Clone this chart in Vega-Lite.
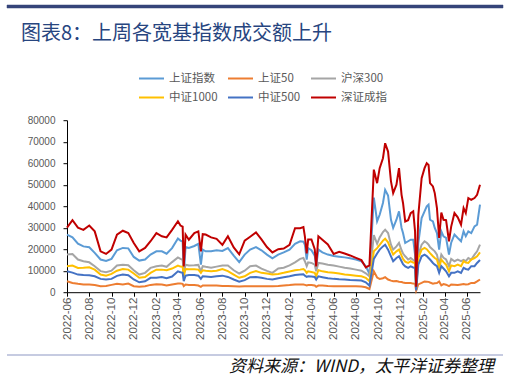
{
"$schema":"https://vega.github.io/schema/vega-lite/v6.json",
"background":"#ffffff",
"padding":{"left":6,"top":4,"right":5,"bottom":2},
"spacing":14.2,
"config":{"view":{"stroke":null},"font":"Liberation Sans"},
"vconcat":[
{"width":496,"height":3,"view":{"fill":"#36447A","stroke":null},"data":{"values":[{"a":0,"b":1}]},"mark":{"type":"rect","color":"#36447A","stroke":"#36447A","strokeWidth":0.5},
 "encoding":{"x":{"field":"a","type":"quantitative","scale":{"domain":[0,1],"nice":false},"axis":null},"x2":{"field":"b"}}},
{"bounds":"flush","spacing":59,"hconcat":[
 {"width":1,"height":1,"data":{"values":[{}]},"mark":{"type":"point","size":0,"opacity":0},"encoding":{}},
 {"width":413,"height":172,
  "title":{"text":"图表8：上周各宽基指数成交额上升","orient":"top","anchor":"start","frame":"group","offset":71.4,"dx":-46,"font":"Noto Sans CJK SC","fontSize":20,"fontWeight":"normal","color":"#27457F"},
  "data":{"values":[
{"d":"2022-06-01","s":"上证指数","v":26800},{"d":"2022-06-16","s":"上证指数","v":25500},{"d":"2022-07-01","s":"上证指数","v":22600},{"d":"2022-07-16","s":"上证指数","v":21300},{"d":"2022-08-01","s":"上证指数","v":20900},{"d":"2022-08-16","s":"上证指数","v":18300},{"d":"2022-09-01","s":"上证指数","v":15200},{"d":"2022-09-16","s":"上证指数","v":14500},{"d":"2022-10-01","s":"上证指数","v":15500},{"d":"2022-10-16","s":"上证指数","v":19500},
{"d":"2022-11-01","s":"上证指数","v":20600},{"d":"2022-11-16","s":"上证指数","v":20400},{"d":"2022-12-01","s":"上证指数","v":16400},{"d":"2022-12-16","s":"上证指数","v":14700},{"d":"2023-01-01","s":"上证指数","v":15200},{"d":"2023-01-16","s":"上证指数","v":17500},{"d":"2023-02-01","s":"上证指数","v":19000},{"d":"2023-02-16","s":"上证指数","v":19000},{"d":"2023-03-01","s":"上证指数","v":17900},{"d":"2023-03-16","s":"上证指数","v":20500},
{"d":"2023-04-01","s":"上证指数","v":25000},{"d":"2023-04-08","s":"上证指数","v":24000},{"d":"2023-04-14","s":"上证指数","v":23500},{"d":"2023-04-17","s":"上证指数","v":8000},{"d":"2023-04-22","s":"上证指数","v":21000},{"d":"2023-05-01","s":"上证指数","v":20600},{"d":"2023-05-16","s":"上证指数","v":21500},{"d":"2023-05-27","s":"上证指数","v":22500},{"d":"2023-06-03","s":"上证指数","v":12800},{"d":"2023-06-08","s":"上证指数","v":19800},
{"d":"2023-06-16","s":"上证指数","v":19000},{"d":"2023-07-01","s":"上证指数","v":19000},{"d":"2023-07-16","s":"上证指数","v":19500},{"d":"2023-08-01","s":"上证指数","v":19200},{"d":"2023-08-16","s":"上证指数","v":20500},{"d":"2023-09-01","s":"上证指数","v":17000},{"d":"2023-09-16","s":"上证指数","v":14000},{"d":"2023-10-01","s":"上证指数","v":17500},{"d":"2023-10-16","s":"上证指数","v":19800},{"d":"2023-11-01","s":"上证指数","v":21000},
{"d":"2023-11-16","s":"上证指数","v":19500},{"d":"2023-12-01","s":"上证指数","v":17500},{"d":"2023-12-16","s":"上证指数","v":15800},{"d":"2024-01-01","s":"上证指数","v":17500},{"d":"2024-01-16","s":"上证指数","v":18500},{"d":"2024-02-01","s":"上证指数","v":19800},{"d":"2024-02-16","s":"上证指数","v":22500},{"d":"2024-03-01","s":"上证指数","v":23700},{"d":"2024-03-10","s":"上证指数","v":23500},{"d":"2024-03-14","s":"上证指数","v":22000},
{"d":"2024-03-19","s":"上证指数","v":15200},{"d":"2024-03-23","s":"上证指数","v":20500},{"d":"2024-04-01","s":"上证指数","v":19500},{"d":"2024-04-10","s":"上证指数","v":17000},{"d":"2024-04-14","s":"上证指数","v":12100},{"d":"2024-04-20","s":"上证指数","v":19800},{"d":"2024-05-01","s":"上证指数","v":18500},{"d":"2024-05-16","s":"上证指数","v":17500},{"d":"2024-06-01","s":"上证指数","v":16800},{"d":"2024-06-16","s":"上证指数","v":16500},
{"d":"2024-07-01","s":"上证指数","v":16200},{"d":"2024-07-16","s":"上证指数","v":15800},{"d":"2024-08-01","s":"上证指数","v":15200},{"d":"2024-08-16","s":"上证指数","v":14400},{"d":"2024-08-28","s":"上证指数","v":12000},{"d":"2024-09-07","s":"上证指数","v":8500},{"d":"2024-09-19","s":"上证指数","v":44000},{"d":"2024-09-28","s":"上证指数","v":33000},{"d":"2024-10-05","s":"上证指数","v":36000},{"d":"2024-10-14","s":"上证指数","v":41500},
{"d":"2024-10-20","s":"上证指数","v":47600},{"d":"2024-10-28","s":"上证指数","v":45000},{"d":"2024-11-05","s":"上证指数","v":33700},{"d":"2024-11-11","s":"上证指数","v":29900},{"d":"2024-11-20","s":"上证指数","v":33700},{"d":"2024-11-27","s":"上证指数","v":37600},{"d":"2024-12-04","s":"上证指数","v":29900},{"d":"2024-12-08","s":"上证指数","v":27500},{"d":"2024-12-14","s":"上证指数","v":22900},{"d":"2024-12-22","s":"上证指数","v":23700},
{"d":"2024-12-29","s":"上证指数","v":24400},{"d":"2025-01-05","s":"上证指数","v":24400},{"d":"2025-01-10","s":"上证指数","v":17500},{"d":"2025-01-13","s":"上证指数","v":2000},{"d":"2025-01-19","s":"上证指数","v":23000},{"d":"2025-01-28","s":"上证指数","v":34500},{"d":"2025-02-05","s":"上证指数","v":37600},{"d":"2025-02-11","s":"上证指数","v":39900},{"d":"2025-02-16","s":"上证指数","v":40700},{"d":"2025-02-20","s":"上证指数","v":33700},
{"d":"2025-02-28","s":"上证指数","v":32900},{"d":"2025-03-05","s":"上证指数","v":29900},{"d":"2025-03-11","s":"上证指数","v":27500},{"d":"2025-03-17","s":"上证指数","v":19800},{"d":"2025-03-23","s":"上证指数","v":28300},{"d":"2025-03-29","s":"上证指数","v":26000},{"d":"2025-04-05","s":"上证指数","v":25300},{"d":"2025-04-13","s":"上证指数","v":17500},{"d":"2025-04-19","s":"上证指数","v":23000},{"d":"2025-04-28","s":"上证指数","v":26800},
{"d":"2025-05-07","s":"上证指数","v":25200},{"d":"2025-05-16","s":"上证指数","v":23700},{"d":"2025-05-23","s":"上证指数","v":28300},{"d":"2025-05-29","s":"上证指数","v":26000},{"d":"2025-06-05","s":"上证指数","v":28300},{"d":"2025-06-13","s":"上证指数","v":27500},{"d":"2025-06-22","s":"上证指数","v":30600},{"d":"2025-06-29","s":"上证指数","v":31400},{"d":"2025-07-07","s":"上证指数","v":40700},
{"d":"2022-06-01","s":"上证50","v":5100},{"d":"2022-06-16","s":"上证50","v":4300},{"d":"2022-07-01","s":"上证50","v":3900},{"d":"2022-07-16","s":"上证50","v":3600},{"d":"2022-08-01","s":"上证50","v":3600},{"d":"2022-08-16","s":"上证50","v":3300},{"d":"2022-09-01","s":"上证50","v":2800},{"d":"2022-09-16","s":"上证50","v":2900},{"d":"2022-10-01","s":"上证50","v":3400},{"d":"2022-10-16","s":"上证50","v":3900},
{"d":"2022-11-01","s":"上证50","v":3600},{"d":"2022-11-16","s":"上证50","v":4000},{"d":"2022-12-01","s":"上证50","v":2800},{"d":"2022-12-16","s":"上证50","v":2500},{"d":"2023-01-01","s":"上证50","v":2800},{"d":"2023-01-16","s":"上证50","v":3400},{"d":"2023-02-01","s":"上证50","v":3700},{"d":"2023-02-16","s":"上证50","v":3600},{"d":"2023-03-01","s":"上证50","v":3100},{"d":"2023-03-16","s":"上证50","v":3600},
{"d":"2023-04-01","s":"上证50","v":4000},{"d":"2023-04-08","s":"上证50","v":4000},{"d":"2023-04-14","s":"上证50","v":3900},{"d":"2023-04-17","s":"上证50","v":2800},{"d":"2023-04-22","s":"上证50","v":3600},{"d":"2023-05-01","s":"上证50","v":3400},{"d":"2023-05-16","s":"上证50","v":3300},{"d":"2023-05-27","s":"上证50","v":3100},{"d":"2023-06-03","s":"上证50","v":2500},{"d":"2023-06-08","s":"上证50","v":3100},
{"d":"2023-06-16","s":"上证50","v":3100},{"d":"2023-07-01","s":"上证50","v":3100},{"d":"2023-07-16","s":"上证50","v":3100},{"d":"2023-08-01","s":"上证50","v":2900},{"d":"2023-08-16","s":"上证50","v":2900},{"d":"2023-09-01","s":"上证50","v":2800},{"d":"2023-09-16","s":"上证50","v":2600},{"d":"2023-10-01","s":"上证50","v":2800},{"d":"2023-10-16","s":"上证50","v":2800},{"d":"2023-11-01","s":"上证50","v":2800},
{"d":"2023-11-16","s":"上证50","v":2800},{"d":"2023-12-01","s":"上证50","v":2800},{"d":"2023-12-16","s":"上证50","v":2800},{"d":"2024-01-01","s":"上证50","v":2900},{"d":"2024-01-16","s":"上证50","v":3100},{"d":"2024-02-01","s":"上证50","v":3300},{"d":"2024-02-16","s":"上证50","v":3600},{"d":"2024-03-01","s":"上证50","v":3600},{"d":"2024-03-10","s":"上证50","v":3600},{"d":"2024-03-14","s":"上证50","v":3400},
{"d":"2024-03-19","s":"上证50","v":3100},{"d":"2024-03-23","s":"上证50","v":3300},{"d":"2024-04-01","s":"上证50","v":3300},{"d":"2024-04-10","s":"上证50","v":3100},{"d":"2024-04-14","s":"上证50","v":2500},{"d":"2024-04-20","s":"上证50","v":3100},{"d":"2024-05-01","s":"上证50","v":3100},{"d":"2024-05-16","s":"上证50","v":2900},{"d":"2024-06-01","s":"上证50","v":2800},{"d":"2024-06-16","s":"上证50","v":2800},
{"d":"2024-07-01","s":"上证50","v":2800},{"d":"2024-07-16","s":"上证50","v":2800},{"d":"2024-08-01","s":"上证50","v":2800},{"d":"2024-08-16","s":"上证50","v":2600},{"d":"2024-08-28","s":"上证50","v":2300},{"d":"2024-09-07","s":"上证50","v":1500},{"d":"2024-09-19","s":"上证50","v":9700},{"d":"2024-09-28","s":"上证50","v":6800},{"d":"2024-10-05","s":"上证50","v":6200},{"d":"2024-10-14","s":"上证50","v":6500},
{"d":"2024-10-20","s":"上证50","v":7000},{"d":"2024-10-28","s":"上证50","v":5900},{"d":"2024-11-05","s":"上证50","v":5400},{"d":"2024-11-11","s":"上证50","v":5100},{"d":"2024-11-20","s":"上证50","v":5200},{"d":"2024-11-27","s":"上证50","v":4900},{"d":"2024-12-04","s":"上证50","v":4700},{"d":"2024-12-08","s":"上证50","v":4500},{"d":"2024-12-14","s":"上证50","v":4300},{"d":"2024-12-22","s":"上证50","v":4300},
{"d":"2024-12-29","s":"上证50","v":4300},{"d":"2025-01-05","s":"上证50","v":4000},{"d":"2025-01-10","s":"上证50","v":3900},{"d":"2025-01-13","s":"上证50","v":800},{"d":"2025-01-19","s":"上证50","v":3600},{"d":"2025-01-28","s":"上证50","v":4300},{"d":"2025-02-05","s":"上证50","v":5000},{"d":"2025-02-11","s":"上证50","v":4900},{"d":"2025-02-16","s":"上证50","v":4800},{"d":"2025-02-20","s":"上证50","v":4500},
{"d":"2025-02-28","s":"上证50","v":4000},{"d":"2025-03-05","s":"上证50","v":4200},{"d":"2025-03-11","s":"上证50","v":4300},{"d":"2025-03-17","s":"上证50","v":5000},{"d":"2025-03-23","s":"上证50","v":3200},{"d":"2025-03-29","s":"上证50","v":3800},{"d":"2025-04-05","s":"上证50","v":3500},{"d":"2025-04-13","s":"上证50","v":2800},{"d":"2025-04-19","s":"上证50","v":3600},{"d":"2025-04-28","s":"上证50","v":3500},
{"d":"2025-05-07","s":"上证50","v":3300},{"d":"2025-05-16","s":"上证50","v":3600},{"d":"2025-05-23","s":"上证50","v":3800},{"d":"2025-05-29","s":"上证50","v":3600},{"d":"2025-06-05","s":"上证50","v":3700},{"d":"2025-06-13","s":"上证50","v":4300},{"d":"2025-06-22","s":"上证50","v":4300},{"d":"2025-06-29","s":"上证50","v":5000},{"d":"2025-07-07","s":"上证50","v":5900},
{"d":"2022-06-01","s":"沪深300","v":17500},{"d":"2022-06-16","s":"沪深300","v":17800},{"d":"2022-07-01","s":"沪深300","v":15200},{"d":"2022-07-16","s":"沪深300","v":14400},{"d":"2022-08-01","s":"沪深300","v":13900},{"d":"2022-08-16","s":"沪深300","v":12100},{"d":"2022-09-01","s":"沪深300","v":9800},{"d":"2022-09-16","s":"沪深300","v":9300},{"d":"2022-10-01","s":"沪深300","v":10000},{"d":"2022-10-16","s":"沪深300","v":12400},
{"d":"2022-11-01","s":"沪深300","v":12800},{"d":"2022-11-16","s":"沪深300","v":12500},{"d":"2022-12-01","s":"沪深300","v":10200},{"d":"2022-12-16","s":"沪深300","v":8200},{"d":"2023-01-01","s":"沪深300","v":9000},{"d":"2023-01-16","s":"沪深300","v":11300},{"d":"2023-02-01","s":"沪深300","v":12100},{"d":"2023-02-16","s":"沪深300","v":12400},{"d":"2023-03-01","s":"沪深300","v":11800},{"d":"2023-03-16","s":"沪深300","v":14000},
{"d":"2023-04-01","s":"沪深300","v":16200},{"d":"2023-04-08","s":"沪深300","v":15500},{"d":"2023-04-14","s":"沪深300","v":15000},{"d":"2023-04-17","s":"沪深300","v":9000},{"d":"2023-04-22","s":"沪深300","v":12800},{"d":"2023-05-01","s":"沪深300","v":12400},{"d":"2023-05-16","s":"沪深300","v":12500},{"d":"2023-05-27","s":"沪深300","v":12700},{"d":"2023-06-03","s":"沪深300","v":9700},{"d":"2023-06-08","s":"沪深300","v":12100},
{"d":"2023-06-16","s":"沪深300","v":11800},{"d":"2023-07-01","s":"沪深300","v":11400},{"d":"2023-07-16","s":"沪深300","v":11900},{"d":"2023-08-01","s":"沪深300","v":12400},{"d":"2023-08-16","s":"沪深300","v":12400},{"d":"2023-09-01","s":"沪深300","v":10200},{"d":"2023-09-16","s":"沪深300","v":8700},{"d":"2023-10-01","s":"沪深300","v":10000},{"d":"2023-10-16","s":"沪深300","v":12100},{"d":"2023-11-01","s":"沪深300","v":12400},
{"d":"2023-11-16","s":"沪深300","v":11000},{"d":"2023-12-01","s":"沪深300","v":9900},{"d":"2023-12-16","s":"沪深300","v":9000},{"d":"2024-01-01","s":"沪深300","v":11000},{"d":"2024-01-16","s":"沪深300","v":11400},{"d":"2024-02-01","s":"沪深300","v":12500},{"d":"2024-02-16","s":"沪深300","v":13900},{"d":"2024-03-01","s":"沪深300","v":15500},{"d":"2024-03-10","s":"沪深300","v":15900},{"d":"2024-03-14","s":"沪深300","v":14400},
{"d":"2024-03-19","s":"沪深300","v":12100},{"d":"2024-03-23","s":"沪深300","v":13900},{"d":"2024-04-01","s":"沪深300","v":13600},{"d":"2024-04-10","s":"沪深300","v":12800},{"d":"2024-04-14","s":"沪深300","v":9700},{"d":"2024-04-20","s":"沪深300","v":13600},{"d":"2024-05-01","s":"沪深300","v":13300},{"d":"2024-05-16","s":"沪深300","v":12800},{"d":"2024-06-01","s":"沪深300","v":12400},{"d":"2024-06-16","s":"沪深300","v":11900},
{"d":"2024-07-01","s":"沪深300","v":11400},{"d":"2024-07-16","s":"沪深300","v":11000},{"d":"2024-08-01","s":"沪深300","v":10500},{"d":"2024-08-16","s":"沪深300","v":10000},{"d":"2024-08-28","s":"沪深300","v":8800},{"d":"2024-09-07","s":"沪深300","v":7400},{"d":"2024-09-19","s":"沪深300","v":26500},{"d":"2024-09-28","s":"沪深300","v":22500},{"d":"2024-10-05","s":"沪深300","v":25500},{"d":"2024-10-14","s":"沪深300","v":28000},
{"d":"2024-10-20","s":"沪深300","v":29100},{"d":"2024-10-28","s":"沪深300","v":27500},{"d":"2024-11-05","s":"沪深300","v":22100},{"d":"2024-11-11","s":"沪深300","v":19800},{"d":"2024-11-20","s":"沪深300","v":21300},{"d":"2024-11-27","s":"沪深300","v":22900},{"d":"2024-12-04","s":"沪深300","v":19500},{"d":"2024-12-08","s":"沪深300","v":18000},{"d":"2024-12-14","s":"沪深300","v":16700},{"d":"2024-12-22","s":"沪深300","v":15200},
{"d":"2024-12-29","s":"沪深300","v":15900},{"d":"2025-01-05","s":"沪深300","v":15000},{"d":"2025-01-10","s":"沪深300","v":14400},{"d":"2025-01-13","s":"沪深300","v":1200},{"d":"2025-01-19","s":"沪深300","v":17500},{"d":"2025-01-28","s":"沪深300","v":22100},{"d":"2025-02-05","s":"沪深300","v":23700},{"d":"2025-02-11","s":"沪深300","v":23000},{"d":"2025-02-16","s":"沪深300","v":22100},{"d":"2025-02-20","s":"沪深300","v":21000},
{"d":"2025-02-28","s":"沪深300","v":19800},{"d":"2025-03-05","s":"沪深300","v":19000},{"d":"2025-03-11","s":"沪深300","v":17500},{"d":"2025-03-17","s":"沪深300","v":12800},{"d":"2025-03-23","s":"沪深300","v":17500},{"d":"2025-03-29","s":"沪深300","v":16000},{"d":"2025-04-05","s":"沪深300","v":15200},{"d":"2025-04-13","s":"沪深300","v":12100},{"d":"2025-04-19","s":"沪深300","v":15500},{"d":"2025-04-28","s":"沪深300","v":14400},
{"d":"2025-05-07","s":"沪深300","v":15200},{"d":"2025-05-16","s":"沪深300","v":14400},{"d":"2025-05-23","s":"沪深300","v":15000},{"d":"2025-05-29","s":"沪深300","v":14500},{"d":"2025-06-05","s":"沪深300","v":15900},{"d":"2025-06-13","s":"沪深300","v":15200},{"d":"2025-06-22","s":"沪深300","v":17500},{"d":"2025-06-29","s":"沪深300","v":19000},{"d":"2025-07-07","s":"沪深300","v":22100},
{"d":"2022-06-01","s":"中证1000","v":12100},{"d":"2022-06-16","s":"中证1000","v":12400},{"d":"2022-07-01","s":"中证1000","v":11300},{"d":"2022-07-16","s":"中证1000","v":11400},{"d":"2022-08-01","s":"中证1000","v":11600},{"d":"2022-08-16","s":"中证1000","v":10500},{"d":"2022-09-01","s":"中证1000","v":8200},{"d":"2022-09-16","s":"中证1000","v":7700},{"d":"2022-10-01","s":"中证1000","v":8500},{"d":"2022-10-16","s":"中证1000","v":10000},
{"d":"2022-11-01","s":"中证1000","v":10800},{"d":"2022-11-16","s":"中证1000","v":10500},{"d":"2022-12-01","s":"中证1000","v":8700},{"d":"2022-12-16","s":"中证1000","v":6700},{"d":"2023-01-01","s":"中证1000","v":7100},{"d":"2023-01-16","s":"中证1000","v":9000},{"d":"2023-02-01","s":"中证1000","v":10500},{"d":"2023-02-16","s":"中证1000","v":10500},{"d":"2023-03-01","s":"中证1000","v":10200},{"d":"2023-03-16","s":"中证1000","v":11000},
{"d":"2023-04-01","s":"中证1000","v":12400},{"d":"2023-04-08","s":"中证1000","v":11900},{"d":"2023-04-14","s":"中证1000","v":11800},{"d":"2023-04-17","s":"中证1000","v":7400},{"d":"2023-04-22","s":"中证1000","v":10800},{"d":"2023-05-01","s":"中证1000","v":10700},{"d":"2023-05-16","s":"中证1000","v":10700},{"d":"2023-05-27","s":"中证1000","v":10500},{"d":"2023-06-03","s":"中证1000","v":9000},{"d":"2023-06-08","s":"中证1000","v":10200},
{"d":"2023-06-16","s":"中证1000","v":10000},{"d":"2023-07-01","s":"中证1000","v":9800},{"d":"2023-07-16","s":"中证1000","v":10000},{"d":"2023-08-01","s":"中证1000","v":10800},{"d":"2023-08-16","s":"中证1000","v":9800},{"d":"2023-09-01","s":"中证1000","v":8200},{"d":"2023-09-16","s":"中证1000","v":6700},{"d":"2023-10-01","s":"中证1000","v":7400},{"d":"2023-10-16","s":"中证1000","v":9000},{"d":"2023-11-01","s":"中证1000","v":9800},
{"d":"2023-11-16","s":"中证1000","v":9000},{"d":"2023-12-01","s":"中证1000","v":8700},{"d":"2023-12-16","s":"中证1000","v":8200},{"d":"2024-01-01","s":"中证1000","v":8500},{"d":"2024-01-16","s":"中证1000","v":9000},{"d":"2024-02-01","s":"中证1000","v":9600},{"d":"2024-02-16","s":"中证1000","v":10200},{"d":"2024-03-01","s":"中证1000","v":10500},{"d":"2024-03-10","s":"中证1000","v":10800},{"d":"2024-03-14","s":"中证1000","v":10200},
{"d":"2024-03-19","s":"中证1000","v":9000},{"d":"2024-03-23","s":"中证1000","v":9700},{"d":"2024-04-01","s":"中证1000","v":9400},{"d":"2024-04-10","s":"中证1000","v":9000},{"d":"2024-04-14","s":"中证1000","v":7400},{"d":"2024-04-20","s":"中证1000","v":10200},{"d":"2024-05-01","s":"中证1000","v":9700},{"d":"2024-05-16","s":"中证1000","v":9300},{"d":"2024-06-01","s":"中证1000","v":9000},{"d":"2024-06-16","s":"中证1000","v":8700},
{"d":"2024-07-01","s":"中证1000","v":8200},{"d":"2024-07-16","s":"中证1000","v":8000},{"d":"2024-08-01","s":"中证1000","v":7700},{"d":"2024-08-16","s":"中证1000","v":7400},{"d":"2024-08-28","s":"中证1000","v":6700},{"d":"2024-09-07","s":"中证1000","v":5100},{"d":"2024-09-19","s":"中证1000","v":19000},{"d":"2024-09-28","s":"中证1000","v":20500},{"d":"2024-10-05","s":"中证1000","v":22000},{"d":"2024-10-14","s":"中证1000","v":24000},
{"d":"2024-10-20","s":"中证1000","v":24900},{"d":"2024-10-28","s":"中证1000","v":23200},{"d":"2024-11-05","s":"中证1000","v":19800},{"d":"2024-11-11","s":"中证1000","v":17500},{"d":"2024-11-20","s":"中证1000","v":19000},{"d":"2024-11-27","s":"中证1000","v":19800},{"d":"2024-12-04","s":"中证1000","v":17000},{"d":"2024-12-08","s":"中证1000","v":15500},{"d":"2024-12-14","s":"中证1000","v":14200},{"d":"2024-12-22","s":"中证1000","v":13600},
{"d":"2024-12-29","s":"中证1000","v":14400},{"d":"2025-01-05","s":"中证1000","v":13800},{"d":"2025-01-10","s":"中证1000","v":13600},{"d":"2025-01-13","s":"中证1000","v":1200},{"d":"2025-01-19","s":"中证1000","v":15900},{"d":"2025-01-28","s":"中证1000","v":19800},{"d":"2025-02-05","s":"中证1000","v":20600},{"d":"2025-02-11","s":"中证1000","v":20000},{"d":"2025-02-16","s":"中证1000","v":19000},{"d":"2025-02-20","s":"中证1000","v":18200},
{"d":"2025-02-28","s":"中证1000","v":16700},{"d":"2025-03-05","s":"中证1000","v":15900},{"d":"2025-03-11","s":"中证1000","v":15200},{"d":"2025-03-17","s":"中证1000","v":11300},{"d":"2025-03-23","s":"中证1000","v":15200},{"d":"2025-03-29","s":"中证1000","v":14000},{"d":"2025-04-05","s":"中证1000","v":12800},{"d":"2025-04-13","s":"中证1000","v":9700},{"d":"2025-04-19","s":"中证1000","v":12500},{"d":"2025-04-28","s":"中证1000","v":12100},
{"d":"2025-05-07","s":"中证1000","v":12800},{"d":"2025-05-16","s":"中证1000","v":12100},{"d":"2025-05-23","s":"中证1000","v":14400},{"d":"2025-05-29","s":"中证1000","v":13800},{"d":"2025-06-05","s":"中证1000","v":13600},{"d":"2025-06-13","s":"中证1000","v":15200},{"d":"2025-06-22","s":"中证1000","v":15900},{"d":"2025-06-29","s":"中证1000","v":16700},{"d":"2025-07-07","s":"中证1000","v":18500},
{"d":"2022-06-01","s":"中证500","v":9700},{"d":"2022-06-16","s":"中证500","v":9100},{"d":"2022-07-01","s":"中证500","v":8200},{"d":"2022-07-16","s":"中证500","v":8000},{"d":"2022-08-01","s":"中证500","v":7900},{"d":"2022-08-16","s":"中证500","v":7400},{"d":"2022-09-01","s":"中证500","v":6200},{"d":"2022-09-16","s":"中证500","v":5900},{"d":"2022-10-01","s":"中证500","v":6200},{"d":"2022-10-16","s":"中证500","v":7600},
{"d":"2022-11-01","s":"中证500","v":8200},{"d":"2022-11-16","s":"中证500","v":7900},{"d":"2022-12-01","s":"中证500","v":5900},{"d":"2022-12-16","s":"中证500","v":4600},{"d":"2023-01-01","s":"中证500","v":5100},{"d":"2023-01-16","s":"中证500","v":6700},{"d":"2023-02-01","s":"中证500","v":6700},{"d":"2023-02-16","s":"中证500","v":7100},{"d":"2023-03-01","s":"中证500","v":6500},{"d":"2023-03-16","s":"中证500","v":7300},
{"d":"2023-04-01","s":"中证500","v":9700},{"d":"2023-04-08","s":"中证500","v":9300},{"d":"2023-04-14","s":"中证500","v":9000},{"d":"2023-04-17","s":"中证500","v":5100},{"d":"2023-04-22","s":"中证500","v":7700},{"d":"2023-05-01","s":"中证500","v":8000},{"d":"2023-05-16","s":"中证500","v":8000},{"d":"2023-05-27","s":"中证500","v":7700},{"d":"2023-06-03","s":"中证500","v":6200},{"d":"2023-06-08","s":"中证500","v":7400},
{"d":"2023-06-16","s":"中证500","v":7300},{"d":"2023-07-01","s":"中证500","v":7100},{"d":"2023-07-16","s":"中证500","v":7400},{"d":"2023-08-01","s":"中证500","v":7700},{"d":"2023-08-16","s":"中证500","v":7100},{"d":"2023-09-01","s":"中证500","v":5900},{"d":"2023-09-16","s":"中证500","v":4900},{"d":"2023-10-01","s":"中证500","v":5600},{"d":"2023-10-16","s":"中证500","v":7000},{"d":"2023-11-01","s":"中证500","v":7100},
{"d":"2023-11-16","s":"中证500","v":6700},{"d":"2023-12-01","s":"中证500","v":6200},{"d":"2023-12-16","s":"中证500","v":5900},{"d":"2024-01-01","s":"中证500","v":6500},{"d":"2024-01-16","s":"中证500","v":7000},{"d":"2024-02-01","s":"中证500","v":7400},{"d":"2024-02-16","s":"中证500","v":8000},{"d":"2024-03-01","s":"中证500","v":8200},{"d":"2024-03-10","s":"中证500","v":8300},{"d":"2024-03-14","s":"中证500","v":7700},
{"d":"2024-03-19","s":"中证500","v":7100},{"d":"2024-03-23","s":"中证500","v":7400},{"d":"2024-04-01","s":"中证500","v":7300},{"d":"2024-04-10","s":"中证500","v":7100},{"d":"2024-04-14","s":"中证500","v":5900},{"d":"2024-04-20","s":"中证500","v":7400},{"d":"2024-05-01","s":"中证500","v":7000},{"d":"2024-05-16","s":"中证500","v":6500},{"d":"2024-06-01","s":"中证500","v":6200},{"d":"2024-06-16","s":"中证500","v":6000},
{"d":"2024-07-01","s":"中证500","v":5900},{"d":"2024-07-16","s":"中证500","v":5700},{"d":"2024-08-01","s":"中证500","v":5600},{"d":"2024-08-16","s":"中证500","v":5400},{"d":"2024-08-28","s":"中证500","v":4600},{"d":"2024-09-07","s":"中证500","v":3000},{"d":"2024-09-19","s":"中证500","v":15500},{"d":"2024-09-28","s":"中证500","v":18000},{"d":"2024-10-05","s":"中证500","v":19800},{"d":"2024-10-14","s":"中证500","v":21300},
{"d":"2024-10-20","s":"中证500","v":22100},{"d":"2024-10-28","s":"中证500","v":19800},{"d":"2024-11-05","s":"中证500","v":16700},{"d":"2024-11-11","s":"中证500","v":14400},{"d":"2024-11-20","s":"中证500","v":15900},{"d":"2024-11-27","s":"中证500","v":16700},{"d":"2024-12-04","s":"中证500","v":14400},{"d":"2024-12-08","s":"中证500","v":13000},{"d":"2024-12-14","s":"中证500","v":12000},{"d":"2024-12-22","s":"中证500","v":11300},
{"d":"2024-12-29","s":"中证500","v":12000},{"d":"2025-01-05","s":"中证500","v":11500},{"d":"2025-01-10","s":"中证500","v":11300},{"d":"2025-01-13","s":"中证500","v":800},{"d":"2025-01-19","s":"中证500","v":12800},{"d":"2025-01-28","s":"中证500","v":16700},{"d":"2025-02-05","s":"中证500","v":17500},{"d":"2025-02-11","s":"中证500","v":16800},{"d":"2025-02-16","s":"中证500","v":15900},{"d":"2025-02-20","s":"中证500","v":15200},
{"d":"2025-02-28","s":"中证500","v":13600},{"d":"2025-03-05","s":"中证500","v":12800},{"d":"2025-03-11","s":"中证500","v":12100},{"d":"2025-03-17","s":"中证500","v":9000},{"d":"2025-03-23","s":"中证500","v":12100},{"d":"2025-03-29","s":"中证500","v":11000},{"d":"2025-04-05","s":"中证500","v":9700},{"d":"2025-04-13","s":"中证500","v":7400},{"d":"2025-04-19","s":"中证500","v":9000},{"d":"2025-04-28","s":"中证500","v":9000},
{"d":"2025-05-07","s":"中证500","v":9700},{"d":"2025-05-16","s":"中证500","v":9000},{"d":"2025-05-23","s":"中证500","v":11300},{"d":"2025-05-29","s":"中证500","v":10800},{"d":"2025-06-05","s":"中证500","v":10500},{"d":"2025-06-13","s":"中证500","v":12100},{"d":"2025-06-22","s":"中证500","v":12100},{"d":"2025-06-29","s":"中证500","v":13600},{"d":"2025-07-07","s":"中证500","v":15000},
{"d":"2022-06-01","s":"深证成指","v":30000},{"d":"2022-06-16","s":"深证成指","v":33500},{"d":"2022-07-01","s":"深证成指","v":30000},{"d":"2022-07-16","s":"深证成指","v":29000},{"d":"2022-08-01","s":"深证成指","v":31000},{"d":"2022-08-16","s":"深证成指","v":28300},{"d":"2022-09-01","s":"深证成指","v":19000},{"d":"2022-09-16","s":"深证成指","v":17800},{"d":"2022-10-01","s":"深证成指","v":19800},{"d":"2022-10-16","s":"深证成指","v":26800},
{"d":"2022-11-01","s":"深证成指","v":28600},{"d":"2022-11-16","s":"深证成指","v":27500},{"d":"2022-12-01","s":"深证成指","v":22900},{"d":"2022-12-16","s":"深证成指","v":19000},{"d":"2023-01-01","s":"深证成指","v":20600},{"d":"2023-01-16","s":"深证成指","v":23700},{"d":"2023-02-01","s":"深证成指","v":27500},{"d":"2023-02-16","s":"深证成指","v":26000},{"d":"2023-03-01","s":"深证成指","v":25500},{"d":"2023-03-16","s":"深证成指","v":29000},
{"d":"2023-04-01","s":"深证成指","v":33000},{"d":"2023-04-08","s":"深证成指","v":31000},{"d":"2023-04-14","s":"深证成指","v":30500},{"d":"2023-04-17","s":"深证成指","v":12000},{"d":"2023-04-22","s":"深证成指","v":26800},{"d":"2023-05-01","s":"深证成指","v":24400},{"d":"2023-05-16","s":"深证成指","v":27500},{"d":"2023-05-27","s":"深证成指","v":28300},{"d":"2023-06-03","s":"深证成指","v":19000},{"d":"2023-06-08","s":"深证成指","v":27000},
{"d":"2023-06-16","s":"深证成指","v":26800},{"d":"2023-07-01","s":"深证成指","v":25500},{"d":"2023-07-16","s":"深证成指","v":24800},{"d":"2023-08-01","s":"深证成指","v":22000},{"d":"2023-08-16","s":"深证成指","v":26000},{"d":"2023-09-01","s":"深证成指","v":20800},{"d":"2023-09-16","s":"深证成指","v":17600},{"d":"2023-10-01","s":"深证成指","v":24000},{"d":"2023-10-16","s":"深证成指","v":25800},{"d":"2023-11-01","s":"深证成指","v":27800},
{"d":"2023-11-16","s":"深证成指","v":24600},{"d":"2023-12-01","s":"深证成指","v":21000},{"d":"2023-12-16","s":"深证成指","v":18500},{"d":"2024-01-01","s":"深证成指","v":20000},{"d":"2024-01-16","s":"深证成指","v":20300},{"d":"2024-02-01","s":"深证成指","v":22000},{"d":"2024-02-16","s":"深证成指","v":29800},{"d":"2024-03-01","s":"深证成指","v":29800},{"d":"2024-03-10","s":"深证成指","v":30300},{"d":"2024-03-14","s":"深证成指","v":26000},
{"d":"2024-03-19","s":"深证成指","v":18000},{"d":"2024-03-23","s":"深证成指","v":24500},{"d":"2024-04-01","s":"深证成指","v":24500},{"d":"2024-04-10","s":"深证成指","v":20000},{"d":"2024-04-14","s":"深证成指","v":12000},{"d":"2024-04-20","s":"深证成指","v":26000},{"d":"2024-05-01","s":"深证成指","v":24400},{"d":"2024-05-16","s":"深证成指","v":22200},{"d":"2024-06-01","s":"深证成指","v":17800},{"d":"2024-06-16","s":"深证成指","v":18800},
{"d":"2024-07-01","s":"深证成指","v":18000},{"d":"2024-07-16","s":"深证成指","v":17100},{"d":"2024-08-01","s":"深证成指","v":16000},{"d":"2024-08-16","s":"深证成指","v":14900},{"d":"2024-08-28","s":"深证成指","v":11500},{"d":"2024-09-07","s":"深证成指","v":12500},{"d":"2024-09-19","s":"深证成指","v":57000},{"d":"2024-09-28","s":"深证成指","v":50700},{"d":"2024-10-05","s":"深证成指","v":57700},{"d":"2024-10-14","s":"深证成指","v":62300},
{"d":"2024-10-20","s":"深证成指","v":69300},{"d":"2024-10-28","s":"深证成指","v":65400},{"d":"2024-11-05","s":"深证成指","v":51500},{"d":"2024-11-11","s":"深证成指","v":46100},{"d":"2024-11-20","s":"深证成指","v":50000},{"d":"2024-11-27","s":"深证成指","v":57700},{"d":"2024-12-04","s":"深证成指","v":45300},{"d":"2024-12-08","s":"深证成指","v":41500},{"d":"2024-12-14","s":"深证成指","v":32900},{"d":"2024-12-22","s":"深证成指","v":33500},
{"d":"2024-12-29","s":"深证成指","v":36800},{"d":"2025-01-05","s":"深证成指","v":37600},{"d":"2025-01-10","s":"深证成指","v":28300},{"d":"2025-01-13","s":"深证成指","v":2500},{"d":"2025-01-19","s":"深证成指","v":36000},{"d":"2025-01-28","s":"深证成指","v":53000},{"d":"2025-02-05","s":"深证成指","v":57700},{"d":"2025-02-11","s":"深证成指","v":60000},{"d":"2025-02-16","s":"深证成指","v":59200},{"d":"2025-02-20","s":"深证成指","v":50700},
{"d":"2025-02-28","s":"深证成指","v":49200},{"d":"2025-03-05","s":"深证成指","v":46100},{"d":"2025-03-11","s":"深证成指","v":39100},{"d":"2025-03-17","s":"深证成指","v":25200},{"d":"2025-03-23","s":"深证成指","v":37000},{"d":"2025-03-29","s":"深证成指","v":33700},{"d":"2025-04-05","s":"深证成指","v":33500},{"d":"2025-04-13","s":"深证成指","v":23700},{"d":"2025-04-19","s":"深证成指","v":30500},{"d":"2025-04-28","s":"深证成指","v":36800},
{"d":"2025-05-07","s":"深证成指","v":34800},{"d":"2025-05-16","s":"深证成指","v":31400},{"d":"2025-05-23","s":"深证成指","v":39100},{"d":"2025-05-29","s":"深证成指","v":36800},{"d":"2025-06-05","s":"深证成指","v":43800},{"d":"2025-06-13","s":"深证成指","v":43000},{"d":"2025-06-22","s":"深证成指","v":43800},{"d":"2025-06-29","s":"深证成指","v":45300},{"d":"2025-07-07","s":"深证成指","v":50000}
  ]},
  "mark":{"type":"line","strokeWidth":2},
  "encoding":{
   "x":{"field":"d","type":"temporal","scale":{"type":"utc","nice":false,"domain":[{"year":2022,"month":6,"date":1,"utc":true},{"year":2025,"month":7,"date":7,"utc":true}]},
    "axis":{"title":null,"format":"%Y-%m","labelAngle":-90,"labelFontSize":11.5,"labelColor":"#595959","labelPadding":1,"tickSize":4,"tickColor":"#000000","domainColor":"#000000","grid":false,"labelOverlap":false,"labelFlush":false,"labelBound":false,
     "values":[{"year":2022,"month":6,"date":1,"utc":true},{"year":2022,"month":8,"date":1,"utc":true},{"year":2022,"month":10,"date":1,"utc":true},{"year":2022,"month":12,"date":1,"utc":true},{"year":2023,"month":2,"date":1,"utc":true},{"year":2023,"month":4,"date":1,"utc":true},{"year":2023,"month":6,"date":1,"utc":true},{"year":2023,"month":8,"date":1,"utc":true},{"year":2023,"month":10,"date":1,"utc":true},{"year":2023,"month":12,"date":1,"utc":true},{"year":2024,"month":2,"date":1,"utc":true},{"year":2024,"month":4,"date":1,"utc":true},{"year":2024,"month":6,"date":1,"utc":true},{"year":2024,"month":8,"date":1,"utc":true},{"year":2024,"month":10,"date":1,"utc":true},{"year":2024,"month":12,"date":1,"utc":true},{"year":2025,"month":2,"date":1,"utc":true},{"year":2025,"month":4,"date":1,"utc":true},{"year":2025,"month":6,"date":1,"utc":true}]}},
   "y":{"field":"v","type":"quantitative","scale":{"domain":[0,80000],"nice":false},
    "axis":{"title":null,"values":[0,10000,20000,30000,40000,50000,60000,70000,80000],"format":"d","labelFontSize":10,"labelColor":"#595959","labelPadding":8,"tickSize":4,"tickColor":"#000000","domainColor":"#000000","grid":false}},
   "color":{"field":"s","type":"nominal",
    "scale":{"domain":["上证指数","上证50","沪深300","中证1000","中证500","深证成指"],"range":["#5B9BD5","#ED7D31","#A5A5A5","#FFC000","#4472C4","#C00000"]},
    "legend":{"title":null,"orient":"none","legendX":131,"legendY":60,"direction":"horizontal","columns":3,"padding":0,"symbolType":"stroke","symbolSize":625,"symbolStrokeWidth":2,"labelFont":"Noto Sans CJK SC","labelFontSize":11.5,"labelColor":"#595959","labelOffset":4,"columnPadding":6,"rowPadding":-2,"labelLimit":300}}
  }
 }
]},
{"width":496,"height":1,"data":{"values":[{"a":0,"b":1}]},"mark":{"type":"rect","color":"#8E97C4"},
 "encoding":{"x":{"field":"a","type":"quantitative","scale":{"domain":[0,1],"nice":false},"axis":null},"x2":{"field":"b"}},
 "title":{"text":"资料来源：WIND，太平洋证券整理","orient":"bottom","anchor":"end","frame":"group","offset":3.5,"dx":-9,"font":"Noto Sans CJK SC","fontSize":17,"fontStyle":"italic","fontWeight":"normal","color":"#111111"}}
]
}
